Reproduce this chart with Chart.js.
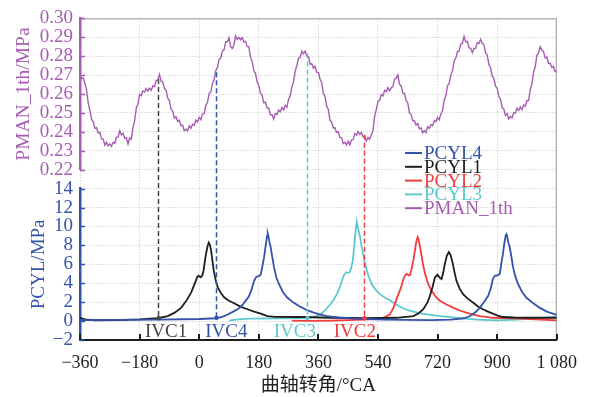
<!DOCTYPE html>
<html>
<head>
<meta charset="utf-8">
<script src="https://cdn.jsdelivr.net/npm/chart.js@4.4.0/dist/chart.umd.min.js"></script>
<style>
  html, body { margin: 0; padding: 0; background: #fff; }
  #wrap { width: 589px; height: 397px; position: relative; }
</style>
</head>
<body>
<div id="wrap"><canvas id="chart"></canvas></div>
<script>
// PMAN_1th, one sample every 5 degCA
const pmanAngle = [
  -360,-355,-350,-345,-340,-335,-330,-325,-320,-315,-310,-305,-300,-295,-290,-285,-280,-275,-270,-265,-260,-255,-250,-245,
  -240,-235,-230,-225,-220,-215,-210,-205,-200,-195,-190,-185,-180,-175,-170,-165,-160,-155,-150,-145,-140,-135,-130,-125,
  -120,-115,-110,-105,-100,-95,-90,-85,-80,-75,-70,-65,-60,-55,-50,-45,-40,-35,-30,-25,-20,-15,-10,-5,
  0,5,10,15,20,25,30,35,40,45,50,55,60,65,70,75,80,85,90,95,100,105,110,115,
  120,125,130,135,140,145,150,155,160,165,170,175,180,185,190,195,200,205,210,215,220,225,230,235,
  240,245,250,255,260,265,270,275,280,285,290,295,300,305,310,315,320,325,330,335,340,345,350,355,
  360,365,370,375,380,385,390,395,400,405,410,415,420,425,430,435,440,445,450,455,460,465,470,475,
  480,485,490,495,500,505,510,515,520,525,530,535,540,545,550,555,560,565,570,575,580,585,590,595,
  600,605,610,615,620,625,630,635,640,645,650,655,660,665,670,675,680,685,690,695,700,705,710,715,
  720,725,730,735,740,745,750,755,760,765,770,775,780,785,790,795,800,805,810,815,820,825,830,835,
  840,845,850,855,860,865,870,875,880,885,890,895,900,905,910,915,920,925,930,935,940,945,950,955,
  960,965,970,975,980,985,990,995,1000,1005,1010,1015,1020,1025,1030,1035,1040,1045,1050,1055,1060,1065,1070,1075,
  1080
];
const pmanValue = [
  0.2705,0.2682,0.2685,0.2655,0.2619,0.2551,0.2513,0.2466,0.2453,0.2419,0.2422,0.2394,0.2398,0.2364,0.2362,0.2330,0.2345,0.2326,0.2337,0.2324,0.2344,0.2339,0.2372,0.2374,
  0.2405,0.2384,0.2393,0.2366,0.2369,0.2336,0.2368,0.2361,0.2423,0.2459,0.2525,0.2547,0.2598,0.2592,0.2617,0.2611,0.2630,0.2616,0.2631,0.2620,0.2643,0.2639,0.2672,0.2674,
  0.2704,0.2668,0.2664,0.2629,0.2621,0.2578,0.2566,0.2521,0.2509,0.2472,0.2480,0.2456,0.2462,0.2433,0.2435,0.2406,0.2414,0.2406,0.2432,0.2419,0.2440,0.2435,0.2462,0.2454,
  0.2476,0.2464,0.2495,0.2498,0.2539,0.2556,0.2603,0.2611,0.2656,0.2675,0.2724,0.2741,0.2783,0.2790,0.2827,0.2834,0.2877,0.2876,0.2898,0.2851,0.2841,0.2859,0.2907,0.2889,
  0.2900,0.2887,0.2898,0.2876,0.2879,0.2851,0.2851,0.2796,0.2773,0.2724,0.2710,0.2664,0.2647,0.2605,0.2595,0.2554,0.2557,0.2526,0.2525,0.2491,0.2491,0.2468,0.2497,0.2492,
  0.2516,0.2507,0.2529,0.2516,0.2540,0.2530,0.2573,0.2591,0.2638,0.2664,0.2723,0.2750,0.2790,0.2792,0.2827,0.2813,0.2827,0.2801,0.2798,0.2758,0.2760,0.2737,0.2747,0.2716,
  0.2715,0.2680,0.2660,0.2605,0.2587,0.2537,0.2519,0.2461,0.2453,0.2421,0.2422,0.2397,0.2401,0.2371,0.2370,0.2338,0.2345,0.2331,0.2351,0.2332,0.2358,0.2359,0.2391,0.2382,
  0.2402,0.2387,0.2397,0.2373,0.2379,0.2351,0.2370,0.2361,0.2385,0.2409,0.2482,0.2519,0.2560,0.2567,0.2597,0.2591,0.2619,0.2613,0.2634,0.2617,0.2633,0.2639,0.2679,0.2684,
  0.2702,0.2652,0.2643,0.2605,0.2604,0.2566,0.2553,0.2501,0.2493,0.2460,0.2459,0.2436,0.2444,0.2417,0.2421,0.2395,0.2407,0.2396,0.2428,0.2418,0.2438,0.2433,0.2460,0.2454,
  0.2476,0.2464,0.2495,0.2513,0.2569,0.2591,0.2643,0.2656,0.2700,0.2721,0.2775,0.2789,0.2825,0.2827,0.2865,0.2868,0.2905,0.2876,0.2879,0.2844,0.2843,0.2819,0.2841,0.2842,
  0.2872,0.2867,0.2889,0.2868,0.2861,0.2819,0.2807,0.2756,0.2739,0.2695,0.2683,0.2642,0.2632,0.2588,0.2573,0.2528,0.2521,0.2488,0.2497,0.2468,0.2481,0.2475,0.2502,0.2499,
  0.2525,0.2514,0.2532,0.2518,0.2542,0.2536,0.2566,0.2566,0.2623,0.2654,0.2717,0.2744,0.2805,0.2817,0.2850,0.2833,0.2824,0.2791,0.2796,0.2762,0.2763,0.2741,0.2747,0.2719,
  0.2721
];

// cylinder pressures (angle / value pairs)
const pcyl4Angle = [-360,-125,0,51,70,86,100,116,126,136,146,151,158,166,172,176,181,186,191,196,201,205,207,209,212,216,221,226,233,241,
  253,266,285,306,326,346,366,386,420,460,500,560,620,700,760,800,818,835,848,862,873,881,887,893,898,903,908,913,917,922,
  926,928,930,933,938,943,948,955,963,975,988,1008,1028,1050,1080];
const pcyl4Value = [0.10,0.15,0.22,0.30,0.45,0.70,0.95,1.25,1.50,1.95,2.40,2.67,3.30,4.27,4.65,4.72,4.75,4.95,5.80,6.76,8.00,9.00,9.26,9.00,8.40,7.80,6.70,5.70,4.60,3.92,
  3.05,2.49,1.95,1.50,1.15,0.89,0.68,0.53,0.38,0.28,0.22,0.15,0.12,0.10,0.15,0.30,0.53,0.95,1.42,2.10,2.67,3.50,4.45,4.78,4.82,4.85,5.00,6.20,7.00,8.30,
  9.10,9.19,9.00,8.40,7.80,6.80,5.70,4.70,3.92,3.10,2.49,1.90,1.42,1.00,0.65];

const pcyl1Angle = [-360,-345,-315,-250,-180,-125,-95,-74,-54,-39,-24,-12,-6,-2,4,9,13,19,25,29,32,36,40,44,50,56,66,76,90,101,
  126,146,166,186,206,230,306,400,500,596,647,662,677,690,697,705,712,720,726,732,737,742,748,754,759,765,771,777,787,797,
  812,827,842,857,872,887,902,917,950,1000,1080];
const pcyl1Value = [0.35,0.18,0.07,0.10,0.18,0.30,0.53,0.89,1.42,2.14,3.03,4.10,4.65,4.80,4.63,4.80,5.30,6.76,7.90,8.30,8.10,7.48,6.40,5.34,4.30,3.56,2.95,2.49,2.15,1.96,
  1.50,1.25,1.00,0.78,0.53,0.45,0.43,0.35,0.30,0.35,0.53,0.80,1.25,2.00,2.67,3.60,4.63,4.90,4.60,4.45,5.10,6.05,6.90,7.30,7.00,6.23,5.20,4.27,3.40,2.85,
  2.35,1.96,1.55,1.25,1.00,0.78,0.58,0.43,0.38,0.35,0.35];

const pcyl2Angle = [280,330,400,497,540,560,576,587,597,602,610,617,622,627,632,637,642,647,653,657,
  660,663,666,669,675,682,692,702,714,727,747,767,787,807,828,848,888,950,1000,1080];
const pcyl2Value = [0.05,0.02,0.05,0.15,0.25,0.40,0.71,1.42,2.40,2.85,3.60,4.45,4.85,4.99,4.85,4.90,5.60,6.41,7.80,8.60,
  8.90,8.60,8.00,7.48,6.20,4.99,3.90,3.20,2.60,2.14,1.75,1.42,1.12,0.89,0.68,0.53,0.35,0.28,0.22,0.07];

const pcyl3Angle = [90,110,150,250,330,346,366,381,396,406,416,424,431,438,444,449,454,459,464,468,
  472,476,479,483,486,491,496,501,510,521,533,546,560,576,602,630,672,720,780,840,900,960,1008,1080];
const pcyl3Value = [0.05,0.15,0.25,0.28,0.35,0.45,0.71,1.15,1.78,2.25,2.85,3.50,4.27,4.90,5.16,5.10,5.16,5.60,6.41,7.80,
  9.40,10.50,10.00,9.30,8.90,7.80,6.90,6.05,4.90,3.92,3.30,2.85,2.50,2.20,1.60,1.15,0.80,0.55,0.35,0.15,0.07,0.15,0.28,0.43];

// intake valve closing markers
const ivcName = ['IVC1', 'IVC4', 'IVC3', 'IVC2'];
const ivcAngle = [-123, 50, 325, 497];
const ivcPman = [0.268, 0.2715, 0.2815, 0.2385];
const ivcPcyl = [0.3, 0.35, 0.3, 0.3];
const ivcLabelAngle = [-100, 82, 289, 470];

const xTicks = [-360, -180, 0, 180, 360, 540, 720, 900, 1080];

const BLUE = '#3352aa', BLACK = '#1e1e1e', RED = '#f03c3c', CYAN = '#5cc9d0', PURPLE = '#a65cb2';
const ivcColor = ['#444444', BLUE, CYAN, RED];
const SERIF = "'Liberation Serif', 'Times New Roman', serif";
const GRID = '#c4c4c4';

const pts = (xs, ys) => xs.map((x, i) => ({ x, y: ys[i] }));
const minus = v => (v < 0 ? '\u2212' + Math.abs(v) : String(v));

const decor = {
  id: 'decor',
  beforeDatasetsDraw(chart) {
    const { ctx, chartArea: a, scales } = chart;
    ctx.save();
    // frame top / right
    ctx.strokeStyle = '#9a9a9a';
    ctx.lineWidth = 1;
    ctx.beginPath();
    ctx.moveTo(a.left, a.top + 0.5);
    ctx.lineTo(a.right - 0.5, a.top + 0.5);
    ctx.lineTo(a.right - 0.5, a.bottom);
    ctx.stroke();
    // inward tick stubs
    ctx.lineWidth = 1.5;
    [['yTop', PURPLE], ['yBot', BLUE]].forEach(([id, col]) => {
      const s = scales[id];
      ctx.strokeStyle = col;
      s.ticks.forEach(t => {
        const y = Math.round(s.getPixelForValue(t.value)) + 0.5;
        ctx.beginPath(); ctx.moveTo(a.left, y); ctx.lineTo(a.left + 5, y); ctx.stroke();
      });
    });
    ctx.strokeStyle = BLACK;
    ctx.lineWidth = 2;
    scales.x.ticks.forEach(t => {
      const x = Math.round(scales.x.getPixelForValue(t.value));
      ctx.beginPath(); ctx.moveTo(x, a.bottom); ctx.lineTo(x, a.bottom - 6); ctx.stroke();
    });
    ctx.restore();
  },
  afterDatasetsDraw(chart) {
    const { ctx, scales } = chart;
    const sx = scales.x, st = scales.yTop, sb = scales.yBot;
    ctx.save();
    ivcName.forEach((name, i) => {
      const x = Math.round(sx.getPixelForValue(ivcAngle[i])) + 0.5;
      const y0 = st.getPixelForValue(ivcPman[i]);
      const y1 = sb.getPixelForValue(ivcPcyl[i]);
      ctx.strokeStyle = ivcColor[i];
      ctx.lineWidth = 1.5;
      ctx.setLineDash([5, 3]);
      ctx.beginPath(); ctx.moveTo(x, y0); ctx.lineTo(x, y1); ctx.stroke();
      ctx.setLineDash([]);
      ctx.fillStyle = ivcColor[i];
      ctx.beginPath(); ctx.arc(x, y1, 2.2, 0, Math.PI * 2); ctx.fill();
      ctx.font = '19px ' + SERIF;
      ctx.textAlign = 'center';
      ctx.textBaseline = 'middle';
      ctx.fillText(name, sx.getPixelForValue(ivcLabelAngle[i]), sb.getPixelForValue(-1.15));
    });
    // legend
    ctx.font = '19px ' + SERIF;
    ctx.textAlign = 'left';
    ctx.textBaseline = 'middle';
    chart.data.datasets.forEach((ds, i) => {
      const y = 153 + i * 13.8;
      ctx.strokeStyle = ds.borderColor;
      ctx.lineWidth = 2;
      ctx.beginPath(); ctx.moveTo(405, y); ctx.lineTo(422, y); ctx.stroke();
      ctx.fillStyle = ds.labelColor;
      ctx.fillText(ds.label, 424, y + 1);
    });
    ctx.restore();
  }
};

const line = (label, color, data, axis, width, textColor) => ({
  label, data, yAxisID: axis,
  borderColor: color, labelColor: textColor || color,
  borderWidth: width, pointRadius: 0, tension: 0, fill: false
});

new Chart(document.getElementById('chart'), {
  type: 'line',
  data: {
    datasets: [
      line('PCYL4', BLUE, pts(pcyl4Angle, pcyl4Value), 'yBot', 1.8),
      line('PCYL1', BLACK, pts(pcyl1Angle, pcyl1Value), 'yBot', 1.8),
      line('PCYL2', RED, pts(pcyl2Angle, pcyl2Value), 'yBot', 1.8),
      line('PCYL3', CYAN, pts(pcyl3Angle, pcyl3Value), 'yBot', 1.8),
      line('PMAN_1th', PURPLE, pts(pmanAngle, pmanValue), 'yTop', 1.4)
    ]
  },
  options: {
    responsive: true,
    maintainAspectRatio: false,
    animation: false,
    devicePixelRatio: 1,
    layout: { padding: { top: 17, right: 30, left: 0, bottom: 0 } },
    plugins: { legend: { display: false }, tooltip: { enabled: false } },
    scales: {
      x: {
        type: 'linear', position: 'bottom', min: -360, max: 1080,
        afterBuildTicks: s => { s.ticks = xTicks.map(v => ({ value: v })); },
        ticks: {
          color: BLACK, padding: 12, maxRotation: 0, autoSkip: false,
          font: { family: SERIF, size: 18 },
          callback: v => (v === 1080 ? '1 080' : minus(v))
        },
        grid: { color: GRID, drawTicks: false },
        border: { color: BLACK, width: 2, dash: [1, 2] },
        title: {
          display: true, text: '曲轴转角/°CA', color: BLACK,
          font: { family: "'Liberation Serif', 'Noto Sans CJK SC', serif", size: 19 },
          padding: { top: 0, bottom: 0 }
        },
        afterFit: s => { s.height = 57; }
      },
      yBot: {
        type: 'linear', position: 'left', stack: 'left', stackWeight: 8,
        min: -2, max: 14,
        ticks: { stepSize: 2, autoSkip: false, color: BLUE, padding: 7, font: { family: SERIF, size: 19 }, callback: v => minus(v) },
        grid: { color: GRID, drawTicks: false },
        border: { color: BLUE, width: 2.5, dash: [1, 2] },
        title: { display: true, text: 'PCYL/MPa', color: BLUE, font: { family: SERIF, size: 19 }, padding: { top: 28, bottom: 0 } },
        afterFit: s => { s.width = 80; }
      },
      yGap: {
        type: 'linear', position: 'left', stack: 'left', stackWeight: 1,
        min: 0, max: 1,
        ticks: { display: false },
        grid: { display: false, drawTicks: false },
        border: { display: false },
        afterFit: s => { s.width = 80; }
      },
      yTop: {
        type: 'linear', position: 'left', stack: 'left', stackWeight: 8,
        min: 0.22, max: 0.30,
        ticks: { stepSize: 0.01, autoSkip: false, color: PURPLE, padding: 7, font: { family: SERIF, size: 19 }, callback: v => v.toFixed(2) },
        grid: { color: GRID, drawTicks: false },
        border: { color: PURPLE, width: 2.5, dash: [1, 2] },
        title: { display: true, text: 'PMAN_1th/MPa', color: PURPLE, font: { family: SERIF, size: 19.5 }, padding: { top: 12, bottom: 0 } },
        afterFit: s => { s.width = 80; }
      }
    }
  },
  plugins: [decor]
});
</script>
</body>
</html>
